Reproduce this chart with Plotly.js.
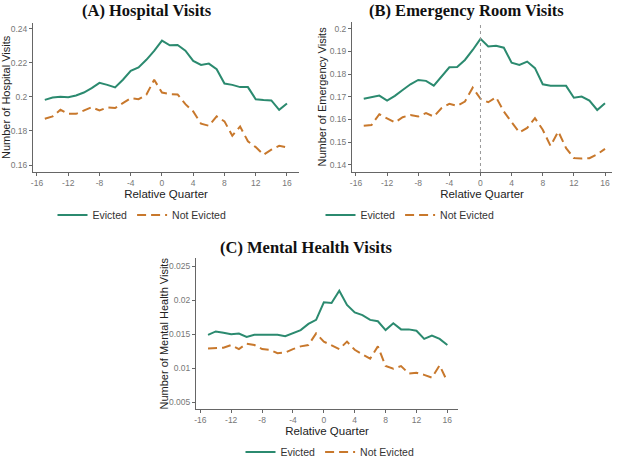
<!DOCTYPE html>
<html>
<head>
<meta charset="utf-8">
<script src="https://cdn.plot.ly/plotly-3.0.1.min.js"></script>
<style>
  body { margin: 0; padding: 0; background: #fff; }
  #chart { width: 620px; height: 468px; }
</style>
</head>
<body>
<div id="chart"></div>
<script>
// relative quarters -15 .. 16
const quarters = [-15, -14, -13, -12, -11, -10, -9, -8, -7, -6, -5, -4, -3, -2, -1, 0,
                  1, 2, 3, 4, 5, 6, 7, 8, 9, 10, 11, 12, 13, 14, 15, 16];

// (A) hospital visits
const hosp_evicted = [0.1982, 0.1996, 0.2000, 0.1998, 0.2008, 0.2025, 0.2051, 0.2082, 0.2070, 0.2055,
                      0.2100, 0.2152, 0.2172, 0.2217, 0.2269, 0.2330, 0.2302, 0.2304, 0.2271, 0.2211,
                      0.2187, 0.2195, 0.2162, 0.2078, 0.2070, 0.2057, 0.2057, 0.1986, 0.1982, 0.1979,
                      0.1924, 0.1961];
const hosp_not_evicted = [0.1871, 0.1885, 0.1924, 0.1900, 0.1900, 0.1918, 0.1939, 0.1920, 0.1938, 0.1934,
                          0.1961, 0.1992, 0.1986, 0.2012, 0.2100, 0.2025, 0.2016, 0.2014, 0.1957, 0.1914,
                          0.1842, 0.1830, 0.1885, 0.1856, 0.1772, 0.1826, 0.1739, 0.1705, 0.1660, 0.1690,
                          0.1713, 0.1703];

// (B) emergency room visits
const er_evicted = [0.1691, 0.1699, 0.1705, 0.1683, 0.1704, 0.1730, 0.1755, 0.1774, 0.1770, 0.1749,
                    0.1792, 0.1830, 0.1831, 0.1862, 0.1906, 0.1955, 0.1921, 0.1924, 0.1916, 0.1850,
                    0.1840, 0.1855, 0.1826, 0.1755, 0.1749, 0.1748, 0.1748, 0.1696, 0.1701, 0.1683,
                    0.1642, 0.1672];
const er_not_evicted = [0.1573, 0.1576, 0.1623, 0.1606, 0.1587, 0.1610, 0.1620, 0.1613, 0.1628, 0.1613,
                        0.1650, 0.1669, 0.1660, 0.1679, 0.1740, 0.1691, 0.1676, 0.1698, 0.1635, 0.1588,
                        0.1543, 0.1563, 0.1606, 0.1555, 0.1484, 0.1547, 0.1474, 0.1430, 0.1428, 0.1430,
                        0.1447, 0.1471];

// (C) mental health visits
const mh_evicted = [0.0149, 0.0154, 0.0152, 0.0150, 0.0151, 0.0146, 0.0149, 0.0149, 0.0150, 0.0149,
                    0.0147, 0.0151, 0.0156, 0.0165, 0.0171, 0.0197, 0.0196, 0.0214, 0.0193, 0.0182,
                    0.0178, 0.0171, 0.0169, 0.0156, 0.0166, 0.0157, 0.0157, 0.0155, 0.0143, 0.0148,
                    0.0143, 0.0134];
const mh_not_evicted = [0.0129, 0.0129, 0.0130, 0.0134, 0.0128, 0.0136, 0.0134, 0.0128, 0.0127, 0.0122,
                        0.0123, 0.0128, 0.0132, 0.0134, 0.0151, 0.0139, 0.0134, 0.0128, 0.0139, 0.0127,
                        0.0120, 0.0114, 0.0132, 0.0103, 0.0099, 0.0103, 0.0092, 0.0093, 0.0090, 0.0086,
                        0.0104, 0.0080];

// tick labels
const x_ticks = [-16, -12, -8, -4, 0, 4, 8, 12, 16];
const x_tick_text = ["-16", "-12", "-8", "-4", "0", "4", "8", "12", "16"];
const hosp_ticks = [0.16, 0.18, 0.2, 0.22, 0.24];
const hosp_tick_text = ["0.16", "0.18", "0.2", "0.22", "0.24"];
const er_ticks = [0.14, 0.15, 0.16, 0.17, 0.18, 0.19, 0.2];
const er_tick_text = ["0.14", "0.15", "0.16", "0.17", "0.18", "0.19", "0.2"];
const mh_ticks = [0.005, 0.01, 0.015, 0.02, 0.025];
const mh_tick_text = ["0.005", "0.01", "0.015", "0.02", "0.025"];

const green = "#2b8a6f";
const orange = "#c8782c";
const W = 620, H = 468;
const px = (v) => v / W;
const py = (v) => 1 - v / H;

const sans = "Liberation Sans, Arial, sans-serif";

const make_traces = (y1, y2, xa, ya, legendId) => [
    {
        name: "Evicted",
        x: quarters, y: y1, xaxis: xa, yaxis: ya,
        mode: "lines", type: "scatter",
        line: { color: green, width: 2 },
        legend: legendId,
    },
    {
        name: "Not Evicted",
        x: quarters, y: y2, xaxis: xa, yaxis: ya,
        mode: "lines", type: "scatter",
        line: { color: orange, width: 2, dash: "9px,5px" },
        legend: legendId,
    },
];

const data = [
    ...make_traces(hosp_evicted, hosp_not_evicted, "x", "y", "legend"),
    ...make_traces(er_evicted, er_not_evicted, "x2", "y2", "legend2"),
    ...make_traces(mh_evicted, mh_not_evicted, "x3", "y3", "legend3"),
];

const tickFont = { family: sans, size: 8.5, color: "#777" };
const titleFont = { family: sans, size: 11.5, color: "#222" };

const xaxis_base = (domain, range, anchor) => ({
    domain: domain, range: range, anchor: anchor,
    tickvals: x_ticks, ticktext: x_tick_text,
    showgrid: false, zeroline: false,
    showline: true, linecolor: "#666", linewidth: 1,
    ticks: "outside", ticklen: 3, tickcolor: "#666",
    tickfont: tickFont,
    title: { text: "Relative Quarter", font: titleFont, standoff: 0 },
});

const yaxis_base = (domain, range, anchor, vals, text) => ({
    domain: domain, range: range, anchor: anchor,
    tickvals: vals, ticktext: text,
    showgrid: false, zeroline: false,
    showline: true, linecolor: "#666", linewidth: 1,
    ticks: "outside", ticklen: 3, tickcolor: "#666",
    tickfont: tickFont,
});

const legend_base = (x, y) => ({
    x: x, y: y, xanchor: "center", yanchor: "middle",
    orientation: "h",
    font: { family: sans, size: 10.5, color: "#333" },
    bgcolor: "rgba(0,0,0,0)",
    itemwidth: 30,
    tracegroupgap: 0,
});

const panelTitle = (text, x, y) => ({
    text: text, x: px(x), y: py(y), xref: "paper", yref: "paper",
    xanchor: "center", yanchor: "middle", showarrow: false,
    font: { family: "Liberation Serif, Times New Roman, serif", size: 16.5, color: "#111" },
});

const yTitle = (text, x, yTop, yBottom) => ({
    text: text, x: px(x), y: (py(yTop) + py(yBottom)) / 2, xref: "paper", yref: "paper",
    xanchor: "center", yanchor: "middle", showarrow: false, textangle: -90,
    font: { family: sans, size: 11, color: "#222" },
});

const layout = {
    width: W, height: H,
    margin: { l: 0, r: 0, t: 0, b: 0 },
    paper_bgcolor: "#fff", plot_bgcolor: "#fff",
    font: { family: sans },
    xaxis: xaxis_base([px(33), px(299)], [-16.51, 17.54], "y"),
    yaxis: yaxis_base([py(172), py(23)], [0.1559, 0.2433], "x", hosp_ticks, hosp_tick_text),
    xaxis2: xaxis_base([px(352), px(612)], [-16.51, 16.9], "y2"),
    yaxis2: yaxis_base([py(172), py(22)], [0.1369, 0.2029], "x2", er_ticks, er_tick_text),
    xaxis3: xaxis_base([px(196), px(458)], [-16.56, 17.38], "y3"),
    yaxis3: yaxis_base([py(409), py(258)], [0.00397, 0.02622], "x3", mh_ticks, mh_tick_text),
    legend: legend_base(px(142), py(215)),
    legend2: legend_base(px(410), py(215)),
    legend3: legend_base(px(330), py(452)),
    shapes: [
        {
            type: "line", xref: "x2", yref: "y2 domain",
            x0: 0, x1: 0, y0: 0, y1: 1,
            line: { color: "#999", width: 1, dash: "dot" },
        },
    ],
    annotations: [
        panelTitle("<b>(A) Hospital Visits</b>", 147, 10),
        panelTitle("<b>(B) Emergency Room Visits</b>", 466, 10),
        panelTitle("<b>(C) Mental Health Visits</b>", 306, 247),
        yTitle("Number of Hospital Visits", 5.5, 23, 172),
        yTitle("Number of Emergency Visits", 321.5, 22, 172),
        yTitle("Number of Mental Health Visits", 163, 258, 409),
    ],
};

Plotly.newPlot("chart", data, layout, { staticPlot: true, displayModeBar: false });
</script>
</body>
</html>
